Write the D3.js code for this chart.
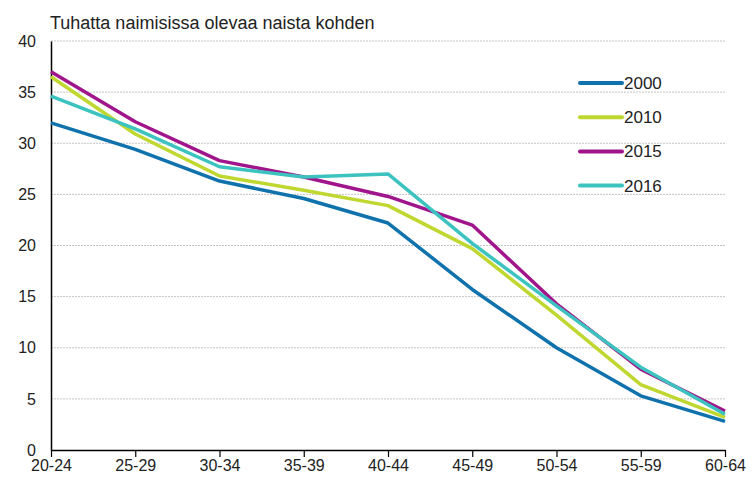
<!DOCTYPE html>
<html>
<head>
<meta charset="utf-8">
<script src="https://cdn.jsdelivr.net/npm/d3@7"></script>
<style>
  body { margin: 0; background: #fff; }
  text { font-family: "Liberation Sans", Arial, sans-serif; }
</style>
</head>
<body>
<script>
// data
const ikaryhmat = ["20-24", "25-29", "30-34", "35-39", "40-44", "45-49", "50-54", "55-59", "60-64"]
const vuodet = ["2000", "2010", "2015", "2016"]
const v2000 = [32.0, 29.4, 26.3, 24.6, 22.2, 15.7, 10.0, 5.3, 2.8]
const v2010 = [36.5, 30.9, 26.8, 25.4, 23.9, 19.7, 13.2, 6.4, 3.2]
const v2015 = [37.0, 32.1, 28.3, 26.7, 24.8, 22.0, 14.3, 7.9, 3.8]
const v2016 = [34.6, 31.4, 27.7, 26.7, 27.0, 20.2, 14.1, 8.1, 3.5]
const yTicks = [0, 5, 10, 15, 20, 25, 30, 35, 40]
const varit = ["#0f72ad", "#bfd72f", "#a0158b", "#3cc3c0"]

const sarjat = [v2000, v2010, v2015, v2016].map((arvot, i) => ({
    nimi: vuodet[i],
    vari: varit[i],
    arvot: arvot
}))

// marges
let margin = { top: 41, right: 27, bottom: 28, left: 51 }
let width = 752 - margin.left - margin.right,
    height = 478 - margin.top - margin.bottom

let svg = d3.select("body")
    .append("svg")
    .attr("width", 752)
    .attr("height", 478)
    .append("g")
    .attr("transform", "translate(" + margin.left + "," + margin.top + ")")

// échelles
let x = d3.scalePoint()
    .domain(ikaryhmat)
    .range([0, width])

let y = d3.scaleLinear()
    .domain([0, 40])
    .range([height, 0])

// grille
svg.append("g")
    .selectAll("line")
    .data(yTicks.filter(d => d > 0))
    .enter()
    .append("line")
    .attr("x1", 0)
    .attr("x2", width)
    .attr("y1", d => y(d))
    .attr("y2", d => y(d))
    .attr("stroke", "#c4c4c4")
    .attr("stroke-width", 1)
    .attr("stroke-dasharray", "2,1")

// axe Y
let axeY = svg.append("g")
    .call(d3.axisLeft(y).tickValues(yTicks).tickSize(0).tickPadding(15))
axeY.select(".domain").attr("stroke", "#000").attr("stroke-width", 1.5)
axeY.selectAll("text")
    .style("font-size", "16px")
    .style("font-family", "Liberation Sans, Arial, sans-serif")
    .attr("fill", "#222")

// axe X
let axeX = svg.append("g")
    .attr("transform", "translate(0," + height + ")")
    .call(d3.axisBottom(x).tickSize(7).tickPadding(3).tickSizeOuter(0))
axeX.select(".domain").attr("stroke", "#000").attr("stroke-width", 1.5)
axeX.selectAll(".tick line").attr("stroke", "#000").attr("stroke-width", 1.2)
axeX.selectAll("text")
    .style("font-size", "16px")
    .style("font-family", "Liberation Sans, Arial, sans-serif")
    .attr("fill", "#222")

// lignes
let ligne = d3.line()
    .x((d, i) => x(ikaryhmat[i]))
    .y(d => y(d))

svg.selectAll(".sarja")
    .data(sarjat)
    .enter()
    .append("path")
    .attr("class", "sarja")
    .attr("d", d => ligne(d.arvot))
    .attr("fill", "none")
    .attr("stroke", d => d.vari)
    .attr("stroke-width", 3.5)
    .attr("stroke-linejoin", "round")

// légende
let legende = svg.append("g")
    .attr("transform", "translate(529,42)")

let rivit = legende.selectAll("g")
    .data(sarjat)
    .enter()
    .append("g")
    .attr("transform", (d, i) => "translate(0," + i * 34.2 + ")")

rivit.append("line")
    .attr("x1", 0)
    .attr("x2", 42)
    .attr("stroke", d => d.vari)
    .attr("stroke-width", 4)
    .attr("stroke-linecap", "round")

rivit.append("text")
    .text(d => d.nimi)
    .attr("x", 44)
    .attr("y", 6)
    .style("font-size", "17px")
    .attr("fill", "#222")

// titre
svg.append("text")
    .text("Tuhatta naimisissa olevaa naista kohden")
    .attr("x", -1)
    .attr("y", -12)
    .style("font-size", "18px")
    .attr("fill", "#222")
</script>
</body>
</html>
